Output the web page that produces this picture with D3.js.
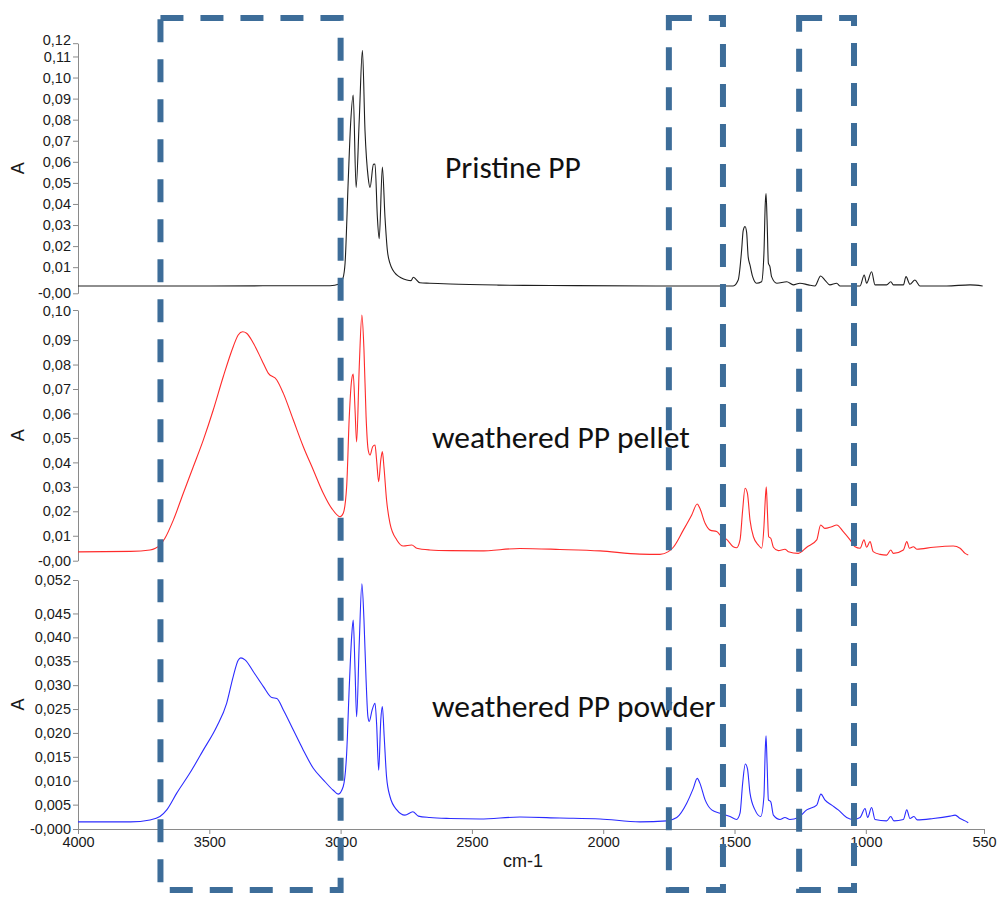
<!DOCTYPE html>
<html>
<head>
<meta charset="utf-8">
<script src="https://cdn.jsdelivr.net/npm/d3@7"></script>
<style>
body { margin: 0; background: #fff; }
svg { display: block; }
.axis text { font-family: "Liberation Sans", Arial, sans-serif; font-size: 14.5px; fill: #1a1a1a; }
.axis path, .axis line { stroke: #8a8a8a; }
.ylab { font-family: "Liberation Sans", Arial, sans-serif; font-size: 18px; fill: #1a1a1a; }
.name { font-family: Carlito, Lato, sans-serif; font-size: 31.5px; fill: #111; }
</style>
</head>
<body>
<div id="chart"></div>
<script>
// wavenumber (cm-1), absorbance
var pristine = [[4000,0.0011],[3500,0.0011],[3100,0.0012],[3040,0.0012],[3005,0.0020],[2991,0.0048],[2983,0.0119],[2971,0.0510],[2962,0.0778],[2952,0.0917],[2941,0.0478],[2929,0.0800],[2917,0.1129],[2907,0.0745],[2895,0.0525],[2888,0.0478],[2875,0.0588],[2869,0.0590],[2860,0.0337],[2853,0.0235],[2841,0.0575],[2831,0.0337],[2822,0.0180],[2812,0.0118],[2786,0.0063],[2748,0.0039],[2732,0.0036],[2723,0.0052],[2698,0.0026],[2660,0.0024],[2583,0.0020],[2400,0.0015],[2200,0.0013],[1800,0.0011],[1632,0.0011],[1505,0.0011],[1486,0.0039],[1473,0.0180],[1467,0.0274],[1460,0.0293],[1454,0.0266],[1448,0.0149],[1441,0.0110],[1431,0.0055],[1416,0.0024],[1397,0.0031],[1388,0.0165],[1383,0.0400],[1380,0.0450],[1376,0.0321],[1371,0.0118],[1365,0.0102],[1359,0.0055],[1339,0.0024],[1301,0.0031],[1276,0.0016],[1251,0.0024],[1219,0.0016],[1194,0.0011],[1172,0.0058],[1156,0.0039],[1137,0.0016],[1111,0.0024],[1098,0.0011],[1022,0.0011],[1006,0.0063],[997,0.0024],[978,0.0078],[965,0.0016],[921,0.0016],[905,0.0031],[895,0.0016],[857,0.0016],[847,0.0055],[832,0.0019],[813,0.0039],[794,0.0011],[692,0.0011],[603,0.0016],[555,0.0011]];

var pellet = [[4000,0.0034],[3800,0.0036],[3726,0.0042],[3688,0.0062],[3669,0.0090],[3637,0.0164],[3599,0.0274],[3561,0.0382],[3523,0.0491],[3485,0.0614],[3447,0.0750],[3409,0.0873],[3390,0.0921],[3373,0.0934],[3358,0.0928],[3332,0.0887],[3300,0.0818],[3275,0.0764],[3243,0.0737],[3218,0.0682],[3180,0.0573],[3142,0.0464],[3104,0.0369],[3066,0.0274],[3034,0.0212],[3002,0.0178],[2990,0.0192],[2977,0.0300],[2967,0.0587],[2958,0.0737],[2952,0.0761],[2945,0.0614],[2939,0.0484],[2929,0.0791],[2919,0.1002],[2911,0.0859],[2903,0.0587],[2895,0.0451],[2888,0.0430],[2878,0.0464],[2869,0.0471],[2863,0.0410],[2855,0.0321],[2847,0.0410],[2841,0.0444],[2835,0.0382],[2825,0.0246],[2812,0.0151],[2786,0.0083],[2761,0.0058],[2729,0.0062],[2710,0.0049],[2660,0.0042],[2583,0.0039],[2469,0.0038],[2317,0.0048],[2165,0.0044],[2012,0.0038],[1860,0.0025],[1784,0.0024],[1752,0.0035],[1733,0.0053],[1695,0.0123],[1663,0.0185],[1642,0.0230],[1632,0.0212],[1612,0.0151],[1593,0.0123],[1568,0.0117],[1549,0.0096],[1530,0.0085],[1505,0.0055],[1492,0.0051],[1479,0.0083],[1469,0.0205],[1460,0.0294],[1451,0.0274],[1441,0.0164],[1428,0.0096],[1409,0.0062],[1397,0.0049],[1388,0.0137],[1383,0.0246],[1379,0.0300],[1375,0.0205],[1370,0.0096],[1362,0.0090],[1352,0.0053],[1333,0.0039],[1308,0.0045],[1295,0.0035],[1257,0.0028],[1225,0.0053],[1187,0.0083],[1172,0.0144],[1156,0.0130],[1130,0.0137],[1111,0.0144],[1086,0.0117],[1060,0.0083],[1041,0.0055],[1022,0.0049],[1007,0.0083],[997,0.0053],[984,0.0076],[972,0.0035],[946,0.0024],[921,0.0021],[905,0.0042],[895,0.0028],[857,0.0042],[844,0.0076],[834,0.0049],[819,0.0055],[806,0.0045],[743,0.0053],[667,0.0058],[641,0.0049],[622,0.0028],[610,0.0021]];

var powder = [[4000,0.0014],[3800,0.0014],[3726,0.0018],[3688,0.0025],[3662,0.0039],[3624,0.0074],[3574,0.0116],[3523,0.0164],[3472,0.0213],[3434,0.0262],[3409,0.0318],[3390,0.0352],[3380,0.0357],[3364,0.0353],[3332,0.0328],[3294,0.0297],[3262,0.0274],[3243,0.0272],[3218,0.0248],[3180,0.0206],[3142,0.0164],[3104,0.0126],[3066,0.0102],[3028,0.0080],[3009,0.0072],[2990,0.0088],[2977,0.0157],[2967,0.0297],[2958,0.0401],[2952,0.0436],[2945,0.0331],[2939,0.0234],[2929,0.0388],[2919,0.0512],[2911,0.0436],[2903,0.0311],[2896,0.0234],[2891,0.0224],[2880,0.0248],[2869,0.0262],[2863,0.0220],[2855,0.0122],[2847,0.0227],[2841,0.0255],[2834,0.0192],[2825,0.0108],[2812,0.0067],[2786,0.0039],[2755,0.0028],[2725,0.0035],[2704,0.0026],[2660,0.0023],[2583,0.0021],[2469,0.0020],[2317,0.0024],[2165,0.0022],[2012,0.0020],[1860,0.0014],[1758,0.0016],[1720,0.0023],[1682,0.0053],[1657,0.0084],[1642,0.0105],[1632,0.0095],[1612,0.0060],[1587,0.0039],[1555,0.0032],[1517,0.0025],[1492,0.0019],[1479,0.0032],[1469,0.0095],[1459,0.0135],[1451,0.0126],[1441,0.0074],[1422,0.0039],[1400,0.0025],[1388,0.0067],[1383,0.0164],[1380,0.0194],[1376,0.0136],[1371,0.0060],[1362,0.0056],[1352,0.0028],[1327,0.0019],[1308,0.0023],[1289,0.0019],[1257,0.0023],[1225,0.0039],[1187,0.0049],[1171,0.0072],[1156,0.0060],[1130,0.0049],[1105,0.0039],[1073,0.0023],[1048,0.0019],[1022,0.0023],[1003,0.0042],[993,0.0023],[978,0.0044],[965,0.0019],[921,0.0016],[905,0.0025],[893,0.0016],[857,0.0019],[844,0.0039],[832,0.0021],[817,0.0025],[804,0.0018],[743,0.0021],[679,0.0026],[660,0.0028],[641,0.0021],[622,0.0016],[610,0.0012]];

var xTicks = [4000, 3500, 3000, 2500, 2000, 1500, 1000, 550];
// end values of each y axis are labelled too, like the original software does
var topTicks = [-0.0024, 0.01, 0.02, 0.03, 0.04, 0.05, 0.06, 0.07, 0.08, 0.09, 0.10, 0.11, 0.1163];
var midTicks = [-0.0002, 0.01, 0.02, 0.03, 0.04, 0.05, 0.06, 0.07, 0.08, 0.09, 0.1023];
var botTicks = [-0.0001, 0.005, 0.010, 0.015, 0.020, 0.025, 0.030, 0.035, 0.040, 0.045, 0.052];

// highlighted regions (cm-1)
var boxes = [[3686, 3000], [1750, 1544], [1254, 1045]];

var width = 997, height = 897;
var x0 = 78, x1 = 984;

// lift: nudge for the crowded top end label
var panels = [
  { data: pristine, color: "#1e1e1e", ticks: topTicks, dec: 2, top: 43.2, bottom: 293.3, lift: -3,
    name: "Pristine PP", nx: 445, ny: 178 },
  { data: pellet, color: "#ff2b2b", ticks: midTicks, dec: 2, top: 310, bottom: 560.7, lift: 1,
    name: "weathered PP pellet", nx: 432, ny: 448 },
  { data: powder, color: "#2b2bff", ticks: botTicks, dec: 3, top: 580, bottom: 829, lift: 0,
    name: "weathered PP powder", nx: 432, ny: 717 }
];

function fmt(dec) {
  return function (d) {
    return (d < 0 ? "-" : "") + Math.abs(d).toFixed(dec).replace(".", ",");
  };
}

var svg = d3.select("#chart").append("svg")
    .attr("width", width)
    .attr("height", height);

var x = d3.scaleLinear().domain([4000, 550]).range([x0, x1]);

panels.forEach(function (p) {
  var t = p.ticks;
  var y = d3.scaleLinear().domain([t[0], t[t.length - 1]]).range([p.bottom, p.top]);

  var ax = svg.append("g")
      .attr("class", "axis")
      .attr("transform", "translate(" + x0 + ",0)")
      .call(d3.axisLeft(y).tickValues(t).tickFormat(fmt(p.dec)).tickSize(5).tickSizeOuter(0).tickPadding(2));

  ax.selectAll(".tick text")
      .filter(function (d) { return d === t[t.length - 1]; })
      .attr("y", p.lift);

  svg.append("text")
      .attr("class", "ylab")
      .attr("transform", "translate(24," + ((p.top + p.bottom) / 2) + ") rotate(-90)")
      .attr("text-anchor", "middle")
      .text("A");

  var line = d3.line()
      .x(function (d) { return x(d[0]); })
      .y(function (d) { return y(d[1]); })
      .curve(d3.curveMonotoneX);

  svg.append("path")
      .datum(p.data)
      .attr("fill", "none")
      .attr("stroke", p.color)
      .attr("stroke-width", 1.1)
      .attr("stroke-linejoin", "round")
      .attr("d", line);

  svg.append("text")
      .attr("class", "name")
      .attr("x", p.nx)
      .attr("y", p.ny)
      .text(p.name);
});

svg.append("g")
    .attr("class", "axis")
    .attr("transform", "translate(0,829)")
    .call(d3.axisBottom(x).tickValues(xTicks).tickFormat(d3.format("d")).tickSize(5).tickSizeOuter(0).tickPadding(3));

svg.append("text")
    .attr("class", "ylab")
    .attr("x", 523)
    .attr("y", 867)
    .attr("text-anchor", "middle")
    .text("cm-1");

svg.selectAll("rect.box")
    .data(boxes)
    .enter().append("rect")
    .attr("class", "box")
    .attr("x", function (d) { return x(d[0]); })
    .attr("width", function (d) { return x(d[1]) - x(d[0]); })
    .attr("y", 18)
    .attr("height", 872)
    .attr("fill", "none")
    .attr("stroke", "#3d6d99")
    .attr("stroke-width", 6)
    .attr("stroke-dasharray", "23 17");
</script>
</body>
</html>
